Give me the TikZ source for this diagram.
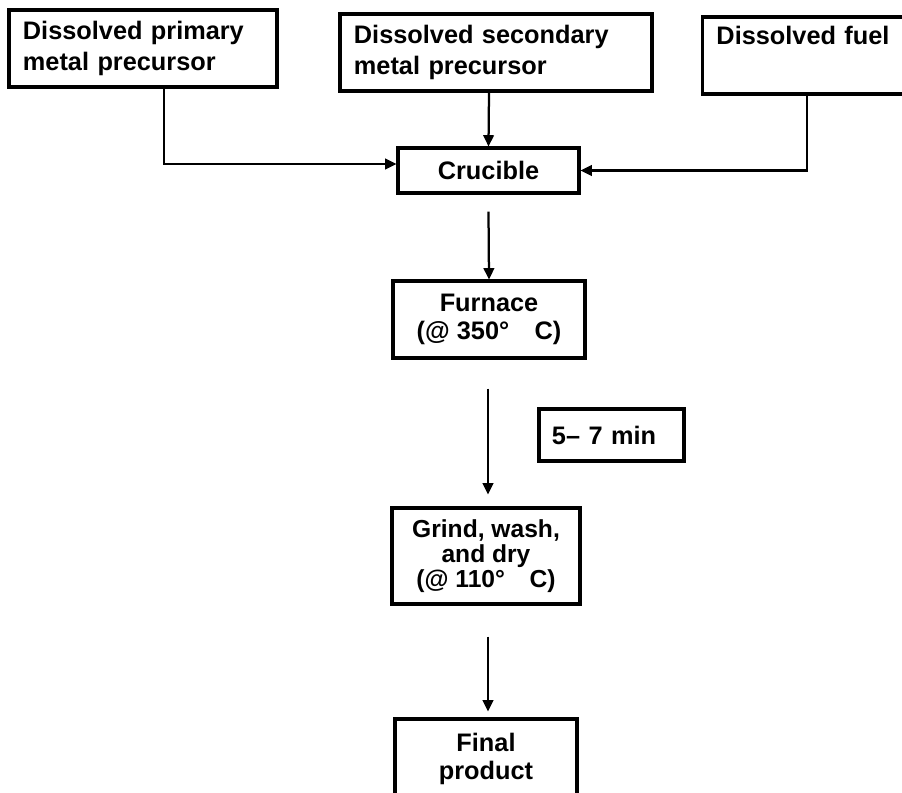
\documentclass[tikz,border=0pt]{standalone}
\usepackage{fontspec}
\setmainfont{Liberation Sans}
\usetikzlibrary{arrows.meta,calc}

\begin{document}
\begin{tikzpicture}[x=0.025cm,y=-0.025cm,
    box/.style={draw,line width=2.2pt,inner sep=0pt,font=\bfseries\fontsize{18}{22}\selectfont},
    arr/.style={line width=1.6pt,-{Triangle[length=8pt,width=7.5pt]}}]
    \clip (0,0) rectangle (902,792);
    \node[box,minimum width=6.7cm,minimum height=1.925cm,text width=6cm,align=left] (prim) at (143,48.5) {Dissolved primary\\metal precursor};
    \node[box,minimum width=7.8cm,minimum height=1.925cm,text width=7.1cm,align=left] (sec) at (496,52.5) {Dissolved secondary\\metal precursor};
    \node[box,minimum width=5.925cm,minimum height=1.925cm,text width=5.225cm,align=left] (fuel) at (821,55.5) {Dissolved fuel\\\strut};
    \node[box,minimum width=4.525cm,minimum height=1.125cm] (cruc) at (488.5,170.5) {Crucible};
    \node[box,minimum width=4.8cm,minimum height=1.925cm,align=center,font=\bfseries\fontsize{18}{20}\selectfont] (furn) at (489,319.5) {Furnace\\(@ 350°\quad C)};
    \node[box,minimum width=3.625cm,minimum height=1.3cm,text width=2.975cm,align=left] (time) at (611.5,435) {5– 7 min};
    \node[box,minimum width=4.7cm,minimum height=2.4cm,align=center,font=\bfseries\fontsize{17.5}{18}\selectfont] (grind) at (486,556) {Grind, wash,\\and dry\\(@ 110°\quad C)};
    \node[box,minimum width=4.55cm,minimum height=2cm,align=center,font=\bfseries\fontsize{18}{20.5}\selectfont] (final) at (486,759) {Final\\product};
    \draw[arr] ($(prim.south)+(21,0)$) |- ($(cruc.west)+(0,-6.5)$);
    \draw[arr] ($(sec.south)+(-7,0)$) -- (cruc.north);
    \draw[arr] ($(fuel.south)+(-14,0)$) |- (cruc.east);
    \draw[arr] ($(cruc.south)+(0,17)$) -- (furn.north);
    \draw[arr] ($(furn.south)+(-1,29)$) -- ($(grind.north)+(2,-12)$);
    \draw[arr] ($(grind.south)+(2,31)$) -- ($(final.north)+(2,-6)$);
\end{tikzpicture}
\end{document}
